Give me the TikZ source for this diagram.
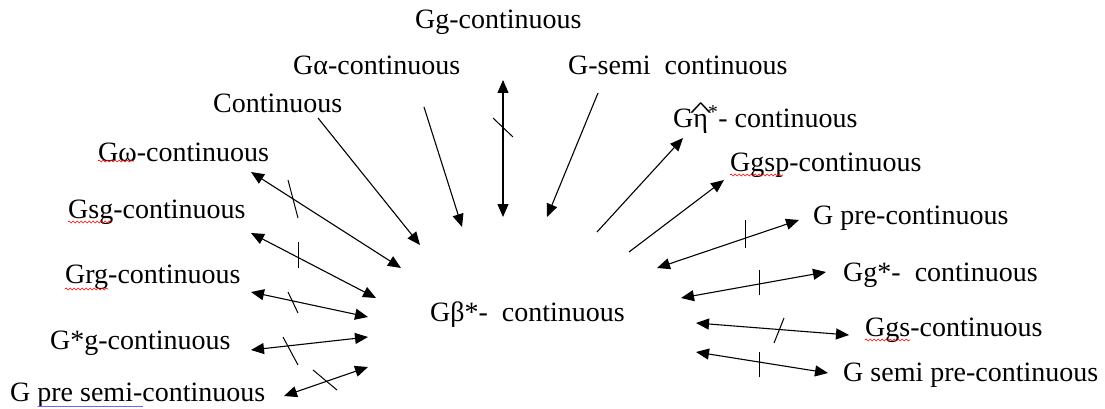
\documentclass[tikz,border=0pt]{standalone}
\usepackage{fontspec}
\setmainfont{Liberation Serif}
\usetikzlibrary{arrows.meta,decorations.pathmorphing}
\newcommand{\etahat}{\setbox0\hbox{η}\rlap{\hbox to \wd0{\hss\raisebox{0.75ex}{\scalebox{1.7}[0.8]{\^{}}}\hss}}\box0}
\begin{document}
\begin{tikzpicture}[x=1pt,y=-1pt,
  lbl/.style={anchor=west,inner sep=0pt,font=\fontsize{28}{32}\selectfont},
  conn/.style={line width=1.1pt,-{Triangle[length=13pt,width=11pt]}},
  dconn/.style={line width=1.1pt,{Triangle[length=13pt,width=11pt]}-{Triangle[length=13pt,width=11pt]}},
  tick/.style={line width=1pt},
  squig/.style={red,line width=0.6pt,decorate,decoration={snake,segment length=4pt,amplitude=1pt}}]
\useasboundingbox (0,0) rectangle (1105,409);
% labels
\node[lbl] (gg) at (415,22) {Gg-continuous};
\node[lbl] (ga) at (293,65) {Gα-continuous};
\node[lbl] (gsemi) at (568,65) {G-semi\ \ continuous};
\node[lbl] (cont) at (213,103) {Continuous};
\node[lbl] (geta) at (673,118) {G\etahat\textsuperscript{*}- continuous};
\node[lbl] (ggsp) at (730,165) {Ggsp-continuous};
\node[lbl] (gpre) at (813,218) {G pre-continuous};
\node[lbl] (ggst) at (843,275) {Gg*-\ \ continuous};
\node[lbl] (ggs) at (865,330) {Ggs-continuous};
\node[lbl] (gsp) at (843,375) {G semi pre-continuous};
\node[lbl] (gw) at (98,152) {Gω-continuous};
\node[lbl] (gsg) at (68,212) {Gsg-continuous};
\node[lbl] (grg) at (65,277) {Grg-continuous};
\node[lbl] (gsg2) at (50,343) {G*g-continuous};
\node[lbl] (gps) at (10,395) {G pre semi-continuous};
\node[lbl] (ctr) at (430,315) {Gβ*-\ \ continuous};
% spell-check marks
\draw[squig] (98,161) -- (134,161);
\draw[squig] (68,222) -- (112,222);
\draw[squig] (65,289) -- (108,289);
\draw[squig] (730,175) -- (783,175);
\draw[squig] (865,340) -- (910,340);
\draw[blue!60,line width=0.8pt] (38,406) -- (143,406);
% coordinates
\coordinate (a1) at (503,80);  \coordinate (b1) at (503,217);
\coordinate (a2) at (424,107); \coordinate (b2) at (462,227);
\coordinate (a3) at (598,93);  \coordinate (b3) at (547,217);
\coordinate (a4) at (318,118); \coordinate (b4) at (420,245);
\coordinate (a5) at (597,232); \coordinate (b5) at (683,138);
\coordinate (a6) at (629,252); \coordinate (b6) at (724,180);
\coordinate (a7) at (657,268); \coordinate (b7) at (799,220);
\coordinate (a8) at (681,298); \coordinate (b8) at (826,272);
\coordinate (a9) at (696,323); \coordinate (b9) at (849,335);
\coordinate (a10) at (696,352); \coordinate (b10) at (828,373);
\coordinate (a11) at (251,172); \coordinate (b11) at (401,268);
\coordinate (a12) at (251,233); \coordinate (b12) at (376,298);
\coordinate (a13) at (251,292); \coordinate (b13) at (368,317);
\coordinate (a14) at (251,350); \coordinate (b14) at (368,337);
\coordinate (a15) at (284,396); \coordinate (b15) at (368,367);
% connectors
\draw[dconn] (a1) -- (b1);
\draw[conn] (a2) -- (b2);
\draw[conn] (a3) -- (b3);
\draw[conn] (a4) -- (b4);
\draw[conn] (a5) -- (b5);
\draw[conn] (a6) -- (b6);
\draw[dconn] (a7) -- (b7);
\draw[dconn] (a8) -- (b8);
\draw[dconn] (a9) -- (b9);
\draw[dconn] (a10) -- (b10);
\draw[dconn] (a11) -- (b11);
\draw[dconn] (a12) -- (b12);
\draw[dconn] (a13) -- (b13);
\draw[dconn] (a14) -- (b14);
\draw[dconn] (a15) -- (b15);
% ticks
\coordinate (t1a) at (493,118); \coordinate (t1b) at (513,137);
\coordinate (t7a) at (745,220); \coordinate (t7b) at (745,248);
\coordinate (t8a) at (759,270); \coordinate (t8b) at (759,295);
\coordinate (t9a) at (784,318); \coordinate (t9b) at (774,343);
\coordinate (t10a) at (759,352); \coordinate (t10b) at (759,377);
\coordinate (t11a) at (288,180); \coordinate (t11b) at (298,218);
\coordinate (t12a) at (298,242); \coordinate (t12b) at (298,268);
\coordinate (t13a) at (288,292); \coordinate (t13b) at (298,313);
\coordinate (t14a) at (283,337); \coordinate (t14b) at (298,365);
\coordinate (t15a) at (313,370); \coordinate (t15b) at (337,390);
\foreach \i in {1,7,8,9,10,11,12,13,14,15} \draw[tick] (t\i a) -- (t\i b);
\end{tikzpicture}
\end{document}
